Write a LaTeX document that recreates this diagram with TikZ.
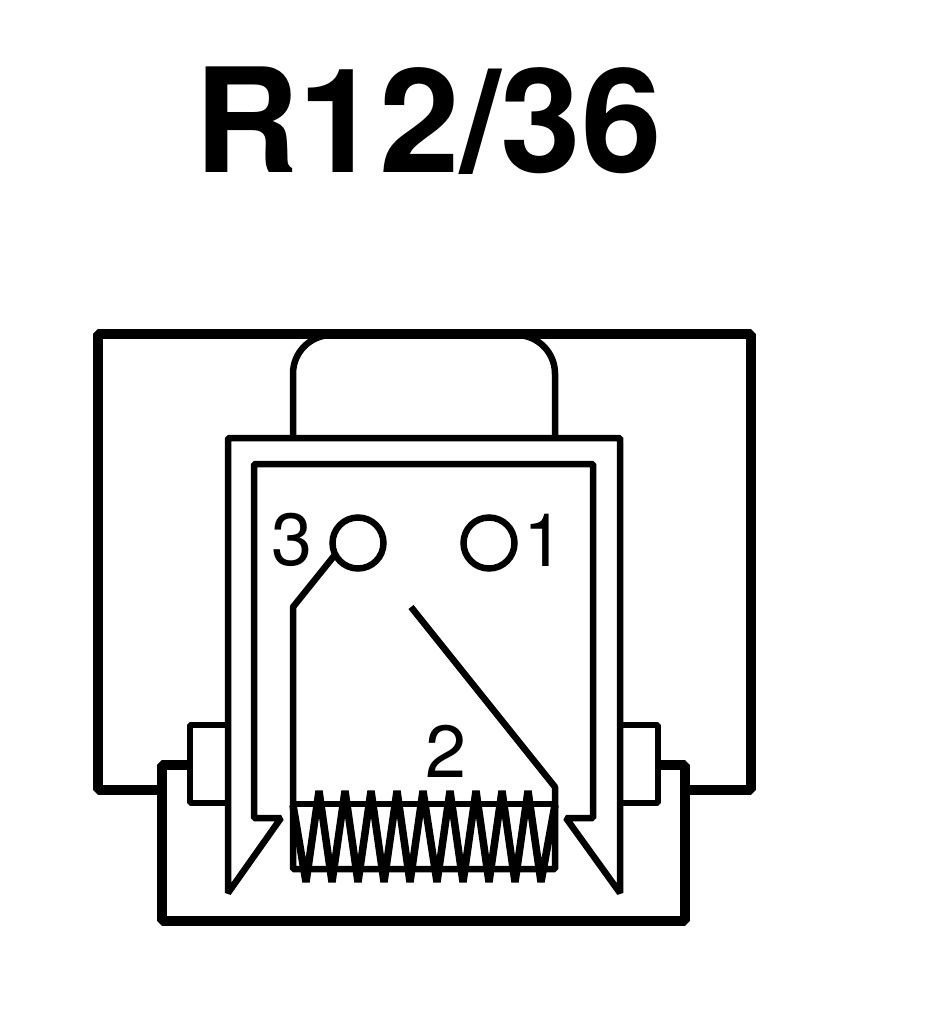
\documentclass[tikz,border=0pt]{standalone}
\usepackage{fontspec}
\setmainfont{TeX Gyre Heros}
\newcommand{\thinwire}{1.3mm}
\newcommand{\heavywire}{1.9mm}
\newcommand{\coilwire}{1.5mm}
\tikzset{
  wire/.style={draw=black, line width=\thinwire, line join=bevel},
  heavy/.style={draw=black, line width=\heavywire, line join=bevel},
  coil/.style={draw=black, line width=\coilwire, line join=bevel},
  pin/.style={circle, draw=black, line width=\thinwire, minimum size=1.02cm, inner sep=0pt},
  pinlabel/.style={inner sep=0pt, font=\fontsize{42}{42}\selectfont},
  titlelabel/.style={inner sep=0pt, font=\fontsize{82.5}{82.5}\selectfont\bfseries}
}

\begin{document}
\begin{tikzpicture}[x=0.02cm, y=-0.02cm]
\useasboundingbox (0,0) rectangle (928,1034);
\node[titlelabel] (title) at (428,121) {R12/36};
%contacts
\node[pin] (pin3) at (358,543) {};
\node[pin] (pin1) at (489,543) {};
\node[pinlabel] (num3) at (292,540) {3};
\node[pinlabel] (num1) at (544,540) {1};
\node[pinlabel] (num2) at (446,751) {2};
%outer frame
\draw[heavy] (161,790) -- (98,790) -- (98,334) -- (751,334) -- (751,790) -- (685,790);
\draw[wire, rounded corners=22] (293,438) -- (293,335) -- (555,335) -- (555,438);
%clamp
\draw[heavy] (188,765) -- (162,765) -- (162,921) -- (685,921) -- (685,765) -- (658,765);
\draw[wire] (228,725) -- (190,725) -- (190,803) -- (228,803);
\draw[wire] (620,725) -- (658,725) -- (658,803) -- (620,803);
%shell
\draw[wire] (228,893) -- (228,438) -- (620,438) -- (620,893) -- (566,818) -- (593,818) -- (593,464) -- (254,464) -- (254,818) -- (281,818) -- cycle;
%coil
\coordinate (bend3) at (293,607);
\coordinate (bend1) at (555,787);
\coordinate (start1) at (411,607);
\draw[wire] (pin3) ++(-24,13) -- (bend3) -- (293,869) -- (555,869) -- (bend1) -- (start1);
\draw[wire] (293,804) -- (555,804);
\draw[coil] (293,805) -- (306,882) -- (319,791) -- (332,882) -- (345,791) -- (358,882) -- (371,791) -- (384,882) -- (397,791) -- (410,882) -- (423,791) -- (437,882) -- (450,791) -- (463,882) -- (476,791) -- (489,882) -- (502,791) -- (515,882) -- (528,791) -- (541,882) -- (555,805);
\end{tikzpicture}
\end{document}
